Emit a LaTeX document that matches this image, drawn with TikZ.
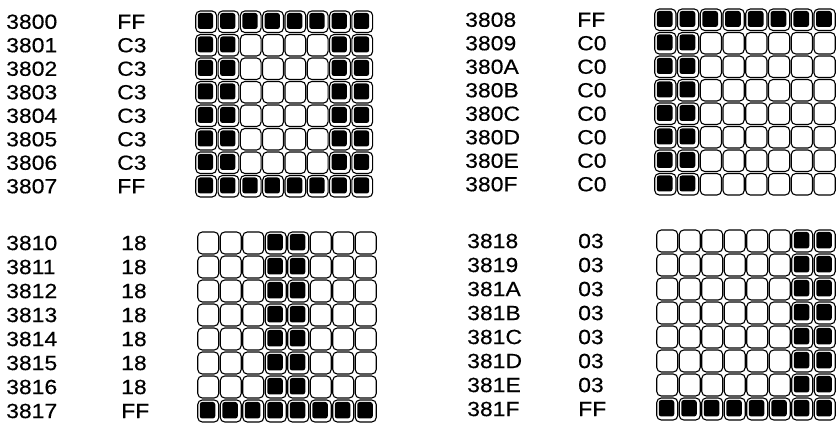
\documentclass[tikz,border=0pt]{standalone}
\usepackage{fontspec}
\setmainfont{Liberation Sans}[FakeStretch=1.12,FakeBold=0.3]
\newcommand\charblock[8]{%
  % #1 name, #2 grid left, #3 grid top (px from top), #4 pitch x, #5 pitch y, #6 label1 x, #7 label2 x, #8 rows
  \foreach \addr/\hx/\v [count=\r from 0] in {#8}{%
    \pgfmathsetmacro\yc{423-#3-(\r+0.5)*#5}
    \node[lbl] (#1a\r) at (#6,\yc) {\addr};
    \node[lbl] (#1h\r) at (#7,\yc) {\hx};
    \foreach \c in {0,...,7}{%
      \pgfmathtruncatemacro\bit{mod(floor(\v/2^(7-\c)),2)}
      \node[cell, minimum width=#4*1pt-1.5pt, minimum height=#5*1pt-2pt] (#1-\r-\c) at (#2+\c*#4+0.5*#4,\yc) {};
      \ifnum\bit=1
        \fill[dot] ([xshift=2pt,yshift=-2pt]#1-\r-\c.north west) rectangle ([xshift=-3.5pt,yshift=3.5pt]#1-\r-\c.south east);
      \fi
    }
  }
}
\begin{document}
\begin{tikzpicture}[x=1pt,y=1pt,
  cell/.style={draw, line width=1.1pt, rounded corners=4.5pt, inner sep=0pt, outer sep=0pt},
  dot/.style={black, rounded corners=2.5pt},
  lbl/.style={anchor=west, inner sep=0pt, font=\fontsize{20.5}{20.5}\selectfont}]
\fill[white] (0,0) rectangle (838,423);
\useasboundingbox (0,0) rectangle (838,423);
\charblock{tl}{195}{10}{22.3}{23.5}{6}{117}{3800/FF/255,3801/C3/195,3802/C3/195,3803/C3/195,3804/C3/195,3805/C3/195,3806/C3/195,3807/FF/255}
\charblock{tr}{654}{8}{22.75}{23.5}{465}{577}{3808/FF/255,3809/C0/192,380A/C0/192,380B/C0/192,380C/C0/192,380D/C0/192,380E/C0/192,380F/C0/192}
\charblock{bl}{197}{231}{22.5}{24}{6}{121}{3810/18/24,3811/18/24,3812/18/24,3813/18/24,3814/18/24,3815/18/24,3816/18/24,3817/FF/255}
\charblock{br}{656}{229}{22.5}{24}{467}{578}{3818/03/3,3819/03/3,381A/03/3,381B/03/3,381C/03/3,381D/03/3,381E/03/3,381F/FF/255}
\end{tikzpicture}
\end{document}
